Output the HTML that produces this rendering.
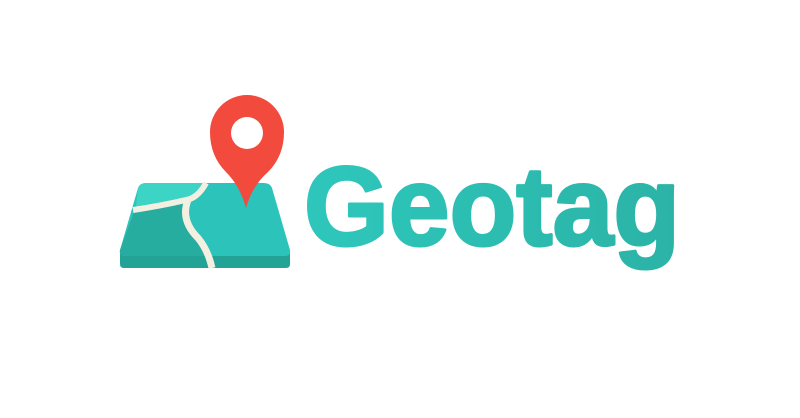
<!DOCTYPE html>
<html>
<head>
<meta charset="utf-8">
<style>
  html,body{margin:0;padding:0;background:#fff;width:800px;height:418px;overflow:hidden;}
  svg{display:block;}
</style>
</head>
<body>
<svg width="800" height="418" viewBox="0 0 800 418">
  <defs>
    <linearGradient id="txt" x1="0" x2="1" y1="0" y2="0">
      <stop offset="0" stop-color="#2ec7bc"/>
      <stop offset="1" stop-color="#2bb3a6"/>
    </linearGradient>
  </defs>
  <g>
    <path d="M120 252 L290 252 L290 264 Q290 268 286 268 L124 268 Q120 268 120 264 Z" fill="#23a396"/>
    <path d="M146 183 L264 183 Q270 183 272 188 L290 250 Q291 256 285 256 L125 256 Q119 256 120 250 L138 188 Q140 183 146 183 Z" fill="#2cc3ba"/>
    <path d="M134 212 Q170 206 190 198 Q184 218 200 236 Q206 246 210 256 L125 256 Q119 256 120 250 Z" fill="#27ad9f"/>
    <path d="M146 183 L206 183 Q196 196 186 198 Q162 204 136 207 L138 188 Q140 183 146 183 Z" fill="#3bd4c5"/>
    <path d="M206 183 Q198 198 186 200 Q160 206 133 210" fill="none" stroke="#f3f0e2" stroke-width="6"/>
    <path d="M188 200 Q180 220 198 238 Q208 250 212 268" fill="none" stroke="#f3f0e2" stroke-width="7"/>
  </g>
  <g>
    <path d="M246 208 Q240 186 226 172 Q210 156 210 132 A37 37 0 0 1 284 132 Q284 156 268 172 Q252 186 246 208 Z" fill="#f24a3c"/>
    <circle cx="247" cy="133" r="16" fill="#fff"/>
  </g>
  <text x="304" y="245" font-family="Liberation Sans, sans-serif" font-weight="bold" font-size="112" fill="url(#txt)" stroke="url(#txt)" stroke-width="3" stroke-linejoin="round" textLength="376" lengthAdjust="spacingAndGlyphs">Geotag</text>
</svg>
</body>
</html>
